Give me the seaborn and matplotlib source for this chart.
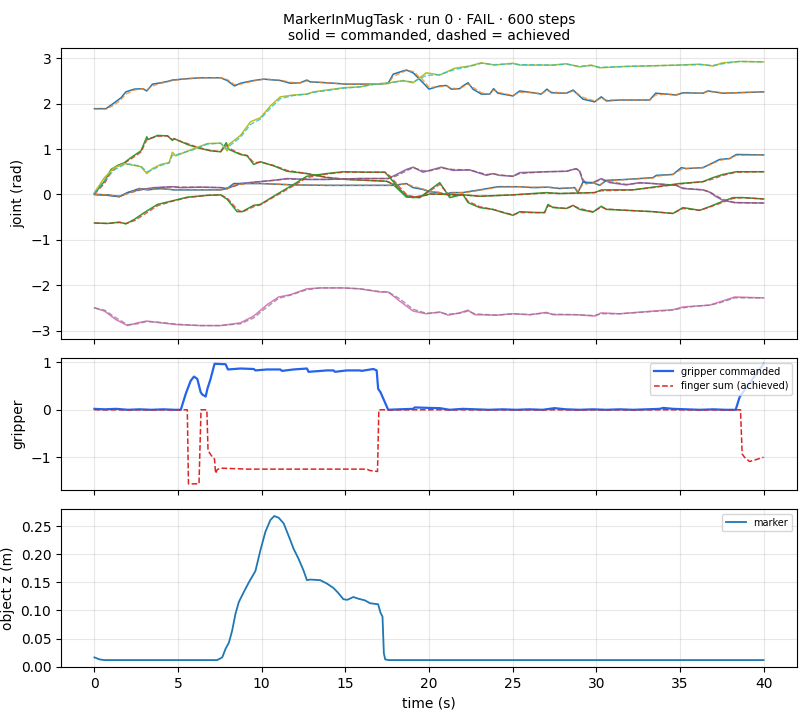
import matplotlib
matplotlib.use("Agg")
import matplotlib.pyplot as plt
import seaborn as sns

# ---------------- data ----------------
J0_T = [0,0.69,1.19,1.59,1.88,2.38,2.88,3.13,3.47,3.97,4.37,4.66,5.56,6.35,7.54,7.94,8.37,8.73,9.52,10.12,
        11.11,11.71,12.30,12.70,12.90,13.89,15.08,16.87,17.56,17.86,18.45,18.65,19.05,19.64,20.0,20.64,21.04,21.33,21.83,22.03,
        22.33,22.63,23.13,23.63,23.86,24.12,25.02,25.42,26.22,26.71,27.05,27.31,28.21,28.61,29.20,29.90,30.30,30.60,31.39,33.19,
        33.55,34.18,34.78,35.18,36.37,36.67,37.57,38.37,40.0]
J0_CMD = [1.89,1.89,2.02,2.13,2.26,2.32,2.33,2.28,2.43,2.46,2.49,2.52,2.55,2.57,2.57,2.51,2.39,2.45,2.51,2.54,
          2.51,2.45,2.46,2.52,2.48,2.46,2.43,2.43,2.45,2.65,2.72,2.74,2.68,2.46,2.32,2.39,2.40,2.32,2.33,2.39,
          2.46,2.32,2.21,2.21,2.33,2.23,2.17,2.28,2.24,2.21,2.32,2.24,2.23,2.30,2.10,2.04,2.15,2.06,2.08,2.08,
          2.23,2.21,2.19,2.24,2.23,2.28,2.23,2.24,2.26]
J0_ACH = [1.88,1.88,1.97,2.09,2.21,2.30,2.33,2.30,2.39,2.45,2.48,2.51,2.55,2.57,2.57,2.53,2.42,2.43,2.50,2.54,
          2.52,2.47,2.46,2.50,2.49,2.46,2.43,2.43,2.44,2.60,2.70,2.73,2.71,2.52,2.36,2.37,2.40,2.34,2.33,2.37,
          2.43,2.36,2.24,2.21,2.30,2.25,2.18,2.25,2.24,2.22,2.29,2.26,2.23,2.28,2.14,2.06,2.12,2.08,2.08,2.08,
          2.19,2.21,2.20,2.23,2.23,2.27,2.24,2.24,2.26]

J1_T = [0,0.60,0.99,1.39,1.79,2.18,2.78,3.13,3.21,3.77,4.37,4.66,4.76,5.56,6.15,6.94,7.54,7.88,8.04,8.73,
        9.13,9.52,9.92,10.71,11.51,12.70,13.89,15.08,16.27,17.46,17.86,18.65,19.44,20.64,21.24,22.03,22.33,23.03,23.82,24.42,
        25.02,25.42,26.41,26.91,27.11,27.41,28.21,28.61,29.0,29.80,30.30,30.60,31.79,33.39,34.58,35.18,36.18,36.77,37.37,38.17,
        38.76,40.0]
J1_CMD = [0.02,0.29,0.55,0.64,0.70,0.81,0.96,1.27,1.21,1.30,1.29,1.19,1.23,1.10,1.03,0.96,0.94,1.14,0.99,0.88,
          0.85,0.66,0.72,0.63,0.51,0.46,0.37,0.33,0.31,0.29,0.22,-0.06,-0.07,0.26,-0.07,0.00,-0.18,-0.29,-0.33,-0.40,
          -0.46,-0.38,-0.40,-0.40,-0.22,-0.29,-0.31,-0.24,-0.33,-0.39,-0.26,-0.33,-0.35,-0.38,-0.42,-0.29,-0.35,-0.27,-0.18,-0.07,
          -0.07,-0.10]
J1_ACH = [0.01,0.24,0.50,0.62,0.69,0.78,0.93,1.20,1.22,1.28,1.29,1.21,1.22,1.12,1.04,0.97,0.94,1.08,1.02,0.89,
          0.86,0.70,0.71,0.64,0.53,0.46,0.38,0.33,0.31,0.29,0.24,-0.02,-0.07,0.22,-0.03,0.00,-0.15,-0.27,-0.33,-0.39,
          -0.45,-0.40,-0.40,-0.40,-0.25,-0.28,-0.31,-0.25,-0.31,-0.38,-0.28,-0.32,-0.35,-0.38,-0.42,-0.31,-0.35,-0.28,-0.20,-0.09,
          -0.07,-0.10]

J2_T = [0,0.79,1.49,1.98,2.78,3.57,4.66,5.16,6.35,7.54,7.94,8.73,9.52,10.71,11.51,12.70,13.89,15.87,17.56,18.06,
        18.65,19.05,19.64,20.04,20.74,21.43,22.43,23.43,23.82,24.22,25.02,25.42,27.01,28.21,28.80,29.0,29.20,29.40,29.80,30.30,
        30.80,31.79,32.59,33.39,34.78,35.18,36.37,36.77,37.17,37.57,38.27,40.0]
J2_CMD = [0.0,-0.02,-0.05,0.04,0.11,0.15,0.17,0.15,0.16,0.15,0.13,0.24,0.27,0.31,0.35,0.33,0.33,0.35,0.35,0.44,
          0.55,0.60,0.49,0.53,0.60,0.53,0.54,0.42,0.46,0.42,0.40,0.48,0.50,0.51,0.57,0.51,0.29,0.24,0.26,0.35,
          0.26,0.21,0.26,0.24,0.20,0.13,0.10,0.05,-0.05,-0.13,-0.18,-0.19]
J2_ACH = [0.0,-0.02,-0.04,0.02,0.10,0.14,0.17,0.16,0.16,0.15,0.14,0.22,0.27,0.31,0.34,0.33,0.33,0.35,0.35,0.41,
          0.52,0.59,0.52,0.52,0.58,0.55,0.54,0.44,0.45,0.43,0.40,0.46,0.50,0.51,0.56,0.53,0.33,0.25,0.26,0.33,
          0.28,0.22,0.25,0.24,0.20,0.14,0.10,0.06,-0.03,-0.11,-0.18,-0.19]

J3_T = [0,0.60,1.29,1.98,2.58,3.13,3.97,4.96,6.35,7.54,8.73,9.52,10.32,11.01,11.71,12.70,13.49,14.88,15.87,17.06,
        17.56,18.25,19.05,19.84,20.64,21.14,21.83,22.33,22.73,24.02,25.02,26.02,27.01,27.41,28.80,29.90,30.30,31.39,33.39,34.58,
        35.18,35.98,36.77,37.37,38.27,40.0]
J3_CMD = [-2.50,-2.57,-2.76,-2.89,-2.83,-2.79,-2.83,-2.87,-2.89,-2.89,-2.83,-2.68,-2.43,-2.26,-2.21,-2.08,-2.06,-2.06,-2.08,-2.15,
          -2.15,-2.35,-2.57,-2.63,-2.59,-2.66,-2.61,-2.55,-2.65,-2.66,-2.63,-2.65,-2.60,-2.65,-2.65,-2.68,-2.61,-2.63,-2.57,-2.54,
          -2.48,-2.46,-2.44,-2.37,-2.26,-2.28]
J3_ACH = [-2.50,-2.55,-2.72,-2.87,-2.85,-2.80,-2.82,-2.86,-2.89,-2.89,-2.85,-2.72,-2.48,-2.29,-2.22,-2.10,-2.06,-2.06,-2.08,-2.14,
          -2.15,-2.30,-2.53,-2.62,-2.60,-2.64,-2.62,-2.57,-2.63,-2.66,-2.63,-2.65,-2.61,-2.64,-2.65,-2.67,-2.63,-2.63,-2.58,-2.55,
          -2.50,-2.46,-2.44,-2.39,-2.28,-2.28]

J4_T = [0,0.60,1.19,1.79,2.08,2.78,3.13,3.47,3.97,4.46,4.66,4.86,5.95,6.75,7.54,7.94,8.04,8.73,9.33,9.92,
        10.52,11.11,11.90,12.70,13.10,13.89,14.88,15.87,16.67,17.46,18.45,19.05,19.84,20.64,21.53,22.43,23.13,23.92,25.02,25.42,
        27.41,28.21,29.0,29.70,30.20,31.79,34.98,36.18,36.97,37.57,38.57,40.0]
J4_CMD = [0.04,0.37,0.59,0.68,0.66,0.61,0.46,0.57,0.66,0.70,0.93,0.85,1.01,1.12,1.13,0.96,1.10,1.30,1.60,1.69,
          1.95,2.15,2.19,2.21,2.26,2.30,2.35,2.37,2.43,2.45,2.51,2.46,2.68,2.63,2.78,2.83,2.90,2.85,2.89,2.85,
          2.85,2.88,2.81,2.85,2.79,2.82,2.85,2.87,2.83,2.90,2.93,2.92]
J4_ACH = [0.03,0.30,0.54,0.66,0.67,0.62,0.50,0.54,0.64,0.69,0.86,0.87,0.99,1.11,1.13,1.00,1.06,1.26,1.54,1.66,
          1.90,2.11,2.18,2.21,2.25,2.29,2.34,2.37,2.42,2.45,2.50,2.48,2.62,2.64,2.75,2.82,2.89,2.86,2.88,2.86,
          2.85,2.87,2.82,2.84,2.80,2.82,2.85,2.86,2.84,2.88,2.93,2.92]

J5_T = [0,0.79,1.49,1.98,2.68,3.17,3.97,4.76,7.54,7.94,8.33,9.13,9.92,11.90,13.89,17.86,18.65,19.05,19.64,20.04,
        20.64,20.94,21.33,22.03,22.33,23.03,24.12,25.42,26.22,27.11,27.81,28.71,28.90,29.20,29.80,30.20,30.60,31.79,33.39,33.59,
        34.58,35.08,35.38,36.37,36.77,37.37,37.97,38.37,40.0]
J5_CMD = [0.0,-0.01,-0.05,0.04,0.13,0.10,0.13,0.10,0.10,0.13,0.24,0.24,0.24,0.21,0.20,0.20,0.24,0.15,0.11,0.06,
          0.04,0.0,0.04,0.04,0.06,0.10,0.17,0.17,0.15,0.16,0.13,0.15,0.04,0.27,0.26,0.20,0.31,0.33,0.37,0.42,
          0.44,0.59,0.57,0.59,0.66,0.77,0.79,0.88,0.87]
J5_ACH = [0.0,-0.01,-0.04,0.02,0.12,0.11,0.12,0.11,0.10,0.12,0.21,0.24,0.24,0.21,0.20,0.20,0.23,0.18,0.12,0.07,
          0.04,0.01,0.03,0.04,0.05,0.09,0.16,0.17,0.16,0.16,0.14,0.15,0.07,0.22,0.26,0.21,0.29,0.33,0.36,0.40,
          0.44,0.55,0.57,0.59,0.65,0.75,0.79,0.86,0.87]

J6_T = [0,0.79,1.49,1.88,2.38,2.98,3.77,4.56,5.56,6.75,7.54,7.94,8.53,8.83,9.52,9.92,10.71,11.90,12.70,13.89,
        14.88,16.27,17.36,17.66,18.25,18.65,19.05,19.84,20.04,22.03,23.03,25.02,27.01,27.81,29.90,30.30,32.19,33.39,34.98,36.37,
        36.97,37.57,38.37,40.0]
J6_CMD = [-0.63,-0.64,-0.61,-0.65,-0.55,-0.40,-0.22,-0.15,-0.06,-0.02,-0.01,-0.11,-0.38,-0.38,-0.24,-0.22,-0.04,0.22,0.40,0.46,
          0.50,0.49,0.49,0.37,0.11,-0.04,-0.07,-0.01,0.01,-0.01,-0.04,-0.01,0.04,0.02,0.04,0.10,0.10,0.16,0.24,0.28,
          0.37,0.44,0.50,0.50]
J6_ACH = [-0.63,-0.64,-0.62,-0.64,-0.58,-0.44,-0.25,-0.16,-0.07,-0.02,-0.01,-0.08,-0.33,-0.39,-0.27,-0.23,-0.06,0.19,0.37,0.45,
          0.49,0.49,0.49,0.41,0.16,0.00,-0.06,-0.02,0.01,-0.01,-0.04,-0.01,0.03,0.02,0.04,0.08,0.10,0.15,0.23,0.28,
          0.34,0.42,0.49,0.50]

GRIP_T = [0,0.6,1.3,2.0,2.7,3.4,4.1,4.8,5.16,5.46,5.75,5.95,6.15,6.35,6.45,6.65,6.75,6.94,7.18,7.84,
          7.98,8.73,9.52,9.62,10.32,11.11,11.21,11.90,12.70,12.80,13.89,14.29,14.38,15.08,15.87,15.97,16.67,16.87,16.96,17.10,
          17.56,18.2,19.05,19.15,20.0,20.64,21.24,22.0,22.8,23.6,24.4,25.2,26.0,26.8,27.5,28.2,29.0,29.8,30.6,31.4,
          32.2,33.0,33.8,34.0,34.6,35.4,36.2,37.0,37.7,38.33,38.57,40.0]
GRIP_CMD = [0.02,0.01,0.02,0.0,0.01,0.0,0.01,0.0,0.0,0.34,0.61,0.70,0.65,0.37,0.32,0.28,0.44,0.65,0.97,0.96,
            0.85,0.87,0.86,0.83,0.85,0.85,0.82,0.85,0.87,0.80,0.83,0.83,0.80,0.83,0.83,0.82,0.86,0.83,0.44,0.37,
            0.0,0.01,0.02,0.05,0.04,0.035,0.0,0.02,0.01,0.0,0.01,0.0,0.01,0.0,0.035,0.01,0.0,0.01,0.0,0.01,
            0.0,0.01,0.02,0.04,0.02,0.01,0.0,0.01,0.0,0.0,0.27,0.97]

FINGER_T = [0,5.55,5.62,6.25,6.37,6.72,6.79,7.04,7.18,7.24,7.34,7.54,9.13,16.27,16.47,16.92,17.00,38.62,38.72,38.86,
            39.16,39.36,40.0]
FINGER_SUM = [0,0,-1.56,-1.56,0,0,-0.86,-0.99,-1.04,-1.34,-1.26,-1.23,-1.25,-1.25,-1.28,-1.30,0,0,-0.93,-1.0,
              -1.09,-1.07,-1.0]

OBJ_T = [0,0.30,0.60,7.34,7.64,7.84,8.04,8.23,8.43,8.63,8.93,9.23,9.52,9.62,9.92,10.22,10.52,10.75,11.01,11.31,
         11.71,11.90,12.20,12.50,12.70,12.90,13.49,13.89,14.29,14.58,14.88,15.12,15.48,15.77,16.17,16.47,16.96,17.10,17.22,17.30,
         17.38,17.56,40.0]
OBJ_Z = [0.0166,0.013,0.0118,0.0118,0.0167,0.032,0.043,0.064,0.094,0.115,0.133,0.150,0.165,0.170,0.207,0.240,0.261,0.268,0.265,0.255,
         0.225,0.210,0.192,0.171,0.154,0.155,0.154,0.148,0.140,0.131,0.120,0.119,0.124,0.121,0.118,0.113,0.111,0.096,0.089,0.024,
         0.013,0.0118,0.0118]

Z_TICKS = [0.00, 0.05, 0.10, 0.15, 0.20, 0.25]
X_TICKS = [0, 5, 10, 15, 20, 25, 30, 35, 40]

JOINTS = [(J0_T, J0_CMD, J0_ACH), (J1_T, J1_CMD, J1_ACH), (J2_T, J2_CMD, J2_ACH),
          (J3_T, J3_CMD, J3_ACH), (J4_T, J4_CMD, J4_ACH), (J5_T, J5_CMD, J5_ACH),
          (J6_T, J6_CMD, J6_ACH)]

TITLE = "MarkerInMugTask · run 0 · FAIL · 600 steps\nsolid = commanded, dashed = achieved"

# ---------------- plot ----------------
pal = sns.color_palette("tab10")
fig, axes = plt.subplots(3, 1, figsize=(8.1, 7.2), dpi=100, sharex=True,
                         gridspec_kw={"height_ratios": [2.2, 1, 1.2]})
fig.subplots_adjust(left=0.0753, right=0.984, top=0.933, bottom=0.0732, hspace=0.098)

ax = axes[0]
for j, (t, c, a) in enumerate(JOINTS):
    sns.lineplot(x=t, y=c, ax=ax, color=pal[(2 * j) % 10], lw=1.1, alpha=1.0,
                 estimator=None, sort=False, legend=False)
    sns.lineplot(x=t, y=a, ax=ax, color=pal[(2 * j + 1) % 10], lw=1.0, alpha=0.75,
                 linestyle="--", estimator=None, sort=False, legend=False)
ax.set_ylabel("joint (rad)")
ax.set_title(TITLE, fontsize=10)
ax.grid(True, alpha=0.3)

ax = axes[1]
sns.lineplot(x=GRIP_T, y=GRIP_CMD, ax=ax, color="#2563eb", lw=1.6,
             estimator=None, sort=False, label="gripper commanded")
sns.lineplot(x=FINGER_T, y=FINGER_SUM, ax=ax, color="#dc2626", lw=1.1,
             linestyle="--", estimator=None, sort=False, label="finger sum (achieved)")
ax.set_yticks([-1, 0, 1])
ax.set_ylabel("gripper")
ax.legend(loc="upper right", fontsize=7)
ax.grid(True, alpha=0.3)

ax = axes[2]
sns.lineplot(x=OBJ_T, y=OBJ_Z, ax=ax, color=pal[0], lw=1.3,
             estimator=None, sort=False, label="marker")
ax.set_yticks(Z_TICKS)
ax.set_yticklabels([f"{v:.2f}" for v in Z_TICKS])
ax.set_ylabel("object z (m)")
ax.set_xlabel("time (s)")
ax.legend(loc="upper right", fontsize=7)
ax.grid(True, alpha=0.3)
ax.set_xticks(X_TICKS)

fig.savefig("out.png", dpi=100)
